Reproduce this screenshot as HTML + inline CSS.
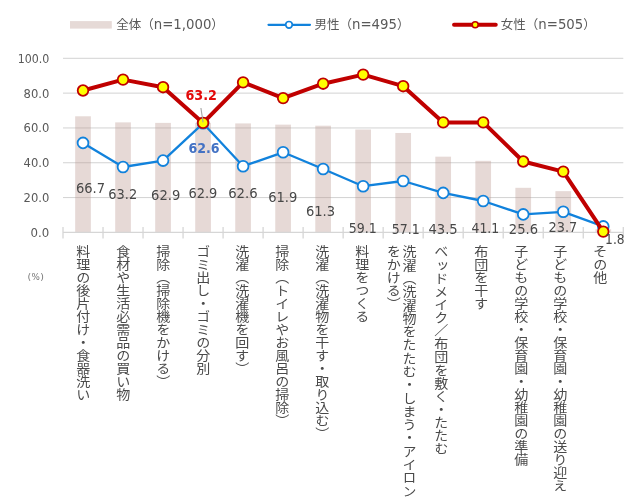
<!DOCTYPE html>
<html lang="ja"><head><meta charset="utf-8"><title>chart</title>
<style>
html,body{margin:0;padding:0;background:#fff;}
body{width:632px;height:500px;position:relative;overflow:hidden;}
svg{position:absolute;left:0;top:0;}
.num{font-family:'DejaVu Sans','Liberation Sans',sans-serif;fill:#595959;}
.ax{font-size:12px;}
.dl{font-size:13.33px;fill:#484848;}
.lg{font-size:12.5px;fill:#595959;}
.lgn{font-size:13.3px;fill:#595959;}
.jp{font-family:'Liberation Sans','Noto Sans CJK JP',sans-serif;}
.xl{position:absolute;top:245px;writing-mode:vertical-rl;font-family:'Liberation Sans','Noto Sans CJK JP',sans-serif;font-size:13px;line-height:15.7px;color:#4a4a4a;white-space:nowrap;letter-spacing:0;transform:scaleX(1.08);transform-origin:50% 0;}
.pct{position:absolute;left:24px;top:270px;font-family:'Liberation Sans','Noto Sans CJK JP',sans-serif;font-size:8px;color:#7f7f7f;line-height:12px;white-space:nowrap;}
</style></head><body>
<svg width="632" height="500" viewBox="0 0 632 500">
<line x1="63.0" x2="623.3" y1="197.58" y2="197.58" stroke="#d2d2d2" stroke-width="1"/>
<line x1="63.0" x2="623.3" y1="162.76" y2="162.76" stroke="#d2d2d2" stroke-width="1"/>
<line x1="63.0" x2="623.3" y1="127.94" y2="127.94" stroke="#d2d2d2" stroke-width="1"/>
<line x1="63.0" x2="623.3" y1="93.12" y2="93.12" stroke="#d2d2d2" stroke-width="1"/>
<line x1="63.0" x2="623.3" y1="58.30" y2="58.30" stroke="#d2d2d2" stroke-width="1"/>
<rect x="75.16" y="116.28" width="15.7" height="116.12" fill="#b9968e" fill-opacity="0.36"/>
<rect x="115.18" y="122.37" width="15.7" height="110.03" fill="#b9968e" fill-opacity="0.36"/>
<rect x="155.20" y="122.89" width="15.7" height="109.51" fill="#b9968e" fill-opacity="0.36"/>
<rect x="195.22" y="122.89" width="15.7" height="109.51" fill="#b9968e" fill-opacity="0.36"/>
<rect x="235.24" y="123.41" width="15.7" height="108.99" fill="#b9968e" fill-opacity="0.36"/>
<rect x="275.26" y="124.63" width="15.7" height="107.77" fill="#b9968e" fill-opacity="0.36"/>
<rect x="315.28" y="125.68" width="15.7" height="106.72" fill="#b9968e" fill-opacity="0.36"/>
<rect x="355.30" y="129.51" width="15.7" height="102.89" fill="#b9968e" fill-opacity="0.36"/>
<rect x="395.32" y="132.99" width="15.7" height="99.41" fill="#b9968e" fill-opacity="0.36"/>
<rect x="435.34" y="156.67" width="15.7" height="75.73" fill="#b9968e" fill-opacity="0.36"/>
<rect x="475.36" y="160.84" width="15.7" height="71.56" fill="#b9968e" fill-opacity="0.36"/>
<rect x="515.38" y="187.83" width="15.7" height="44.57" fill="#b9968e" fill-opacity="0.36"/>
<rect x="555.40" y="191.14" width="15.7" height="41.26" fill="#b9968e" fill-opacity="0.36"/>
<rect x="595.42" y="229.27" width="15.7" height="3.13" fill="#b9968e" fill-opacity="0.36"/>
<line x1="63.0" x2="623.3" y1="232.4" y2="232.4" stroke="#d6d6d6" stroke-width="1.3"/>
<line x1="63.00" x2="63.00" y1="226.9" y2="238.5" stroke="#d6d6d6" stroke-width="1.3"/>
<line x1="103.02" x2="103.02" y1="226.9" y2="238.5" stroke="#d6d6d6" stroke-width="1.3"/>
<line x1="143.04" x2="143.04" y1="226.9" y2="238.5" stroke="#d6d6d6" stroke-width="1.3"/>
<line x1="183.06" x2="183.06" y1="226.9" y2="238.5" stroke="#d6d6d6" stroke-width="1.3"/>
<line x1="223.08" x2="223.08" y1="226.9" y2="238.5" stroke="#d6d6d6" stroke-width="1.3"/>
<line x1="263.10" x2="263.10" y1="226.9" y2="238.5" stroke="#d6d6d6" stroke-width="1.3"/>
<line x1="303.12" x2="303.12" y1="226.9" y2="238.5" stroke="#d6d6d6" stroke-width="1.3"/>
<line x1="343.14" x2="343.14" y1="226.9" y2="238.5" stroke="#d6d6d6" stroke-width="1.3"/>
<line x1="383.16" x2="383.16" y1="226.9" y2="238.5" stroke="#d6d6d6" stroke-width="1.3"/>
<line x1="423.18" x2="423.18" y1="226.9" y2="238.5" stroke="#d6d6d6" stroke-width="1.3"/>
<line x1="463.20" x2="463.20" y1="226.9" y2="238.5" stroke="#d6d6d6" stroke-width="1.3"/>
<line x1="503.22" x2="503.22" y1="226.9" y2="238.5" stroke="#d6d6d6" stroke-width="1.3"/>
<line x1="543.24" x2="543.24" y1="226.9" y2="238.5" stroke="#d6d6d6" stroke-width="1.3"/>
<line x1="583.26" x2="583.26" y1="226.9" y2="238.5" stroke="#d6d6d6" stroke-width="1.3"/>
<line x1="623.28" x2="623.28" y1="226.9" y2="238.5" stroke="#d6d6d6" stroke-width="1.3"/>
<text class="num ax" x="30.6" y="236.8" textLength="18.7" lengthAdjust="spacingAndGlyphs">0.0</text>
<text class="num ax" x="23.6" y="202.0" textLength="25.7" lengthAdjust="spacingAndGlyphs">20.0</text>
<text class="num ax" x="23.6" y="167.2" textLength="25.7" lengthAdjust="spacingAndGlyphs">40.0</text>
<text class="num ax" x="23.6" y="132.3" textLength="25.7" lengthAdjust="spacingAndGlyphs">60.0</text>
<text class="num ax" x="23.6" y="97.5" textLength="25.7" lengthAdjust="spacingAndGlyphs">80.0</text>
<text class="num ax" x="17.7" y="62.7" textLength="31.6" lengthAdjust="spacingAndGlyphs">100.0</text>
<polyline points="83.01,142.90 123.03,167.00 163.05,160.60 203.07,123.30 243.09,166.20 283.11,152.30 323.13,169.00 363.15,186.20 403.17,181.00 443.19,192.90 483.21,201.00 523.23,214.40 563.25,211.80 603.27,226.40" fill="none" stroke="#1182dc" stroke-width="2.3" stroke-linejoin="round" stroke-linecap="round"/>
<circle cx="83.01" cy="142.90" r="5.4" fill="#fff" stroke="#1182dc" stroke-width="1.8"/>
<circle cx="123.03" cy="167.00" r="5.4" fill="#fff" stroke="#1182dc" stroke-width="1.8"/>
<circle cx="163.05" cy="160.60" r="5.4" fill="#fff" stroke="#1182dc" stroke-width="1.8"/>
<circle cx="203.07" cy="123.30" r="5.4" fill="#fff" stroke="#1182dc" stroke-width="1.8"/>
<circle cx="243.09" cy="166.20" r="5.4" fill="#fff" stroke="#1182dc" stroke-width="1.8"/>
<circle cx="283.11" cy="152.30" r="5.4" fill="#fff" stroke="#1182dc" stroke-width="1.8"/>
<circle cx="323.13" cy="169.00" r="5.4" fill="#fff" stroke="#1182dc" stroke-width="1.8"/>
<circle cx="363.15" cy="186.20" r="5.4" fill="#fff" stroke="#1182dc" stroke-width="1.8"/>
<circle cx="403.17" cy="181.00" r="5.4" fill="#fff" stroke="#1182dc" stroke-width="1.8"/>
<circle cx="443.19" cy="192.90" r="5.4" fill="#fff" stroke="#1182dc" stroke-width="1.8"/>
<circle cx="483.21" cy="201.00" r="5.4" fill="#fff" stroke="#1182dc" stroke-width="1.8"/>
<circle cx="523.23" cy="214.40" r="5.4" fill="#fff" stroke="#1182dc" stroke-width="1.8"/>
<circle cx="563.25" cy="211.80" r="5.4" fill="#fff" stroke="#1182dc" stroke-width="1.8"/>
<circle cx="603.27" cy="226.40" r="5.4" fill="#fff" stroke="#1182dc" stroke-width="1.8"/>
<polyline points="83.01,90.50 123.03,79.60 163.05,87.20 203.07,122.90 243.09,82.40 283.11,98.10 323.13,83.70 363.15,74.60 403.17,86.20 443.19,122.40 483.21,122.40 523.23,161.50 563.25,171.60 603.27,231.60" fill="none" stroke="#c00000" stroke-width="4" stroke-linejoin="round" stroke-linecap="round"/>
<circle cx="83.01" cy="90.50" r="5.3" fill="#ffff00" stroke="#c00000" stroke-width="1.8"/>
<circle cx="123.03" cy="79.60" r="5.3" fill="#ffff00" stroke="#c00000" stroke-width="1.8"/>
<circle cx="163.05" cy="87.20" r="5.3" fill="#ffff00" stroke="#c00000" stroke-width="1.8"/>
<circle cx="203.07" cy="122.90" r="5.3" fill="#ffff00" stroke="#c00000" stroke-width="1.8"/>
<circle cx="243.09" cy="82.40" r="5.3" fill="#ffff00" stroke="#c00000" stroke-width="1.8"/>
<circle cx="283.11" cy="98.10" r="5.3" fill="#ffff00" stroke="#c00000" stroke-width="1.8"/>
<circle cx="323.13" cy="83.70" r="5.3" fill="#ffff00" stroke="#c00000" stroke-width="1.8"/>
<circle cx="363.15" cy="74.60" r="5.3" fill="#ffff00" stroke="#c00000" stroke-width="1.8"/>
<circle cx="403.17" cy="86.20" r="5.3" fill="#ffff00" stroke="#c00000" stroke-width="1.8"/>
<circle cx="443.19" cy="122.40" r="5.3" fill="#ffff00" stroke="#c00000" stroke-width="1.8"/>
<circle cx="483.21" cy="122.40" r="5.3" fill="#ffff00" stroke="#c00000" stroke-width="1.8"/>
<circle cx="523.23" cy="161.50" r="5.3" fill="#ffff00" stroke="#c00000" stroke-width="1.8"/>
<circle cx="563.25" cy="171.60" r="5.3" fill="#ffff00" stroke="#c00000" stroke-width="1.8"/>
<circle cx="603.27" cy="231.60" r="5.3" fill="#ffff00" stroke="#c00000" stroke-width="1.8"/>
<line x1="200.9" y1="108" x2="203.1" y2="122.4" stroke="#a3a3a3" stroke-width="1.1"/>
<text class="num dl" x="75.9" y="193.0" textLength="29.2" lengthAdjust="spacingAndGlyphs">66.7</text>
<text class="num dl" x="108.3" y="199.3" textLength="28.9" lengthAdjust="spacingAndGlyphs">63.2</text>
<text class="num dl" x="151.1" y="200.0" textLength="29.2" lengthAdjust="spacingAndGlyphs">62.9</text>
<text class="num dl" x="188.4" y="197.8" textLength="28.9" lengthAdjust="spacingAndGlyphs">62.9</text>
<text class="num dl" x="228.2" y="197.8" textLength="29.5" lengthAdjust="spacingAndGlyphs">62.6</text>
<text class="num dl" x="268.2" y="201.6" textLength="29.2" lengthAdjust="spacingAndGlyphs">61.9</text>
<text class="num dl" x="305.9" y="216.3" textLength="29.2" lengthAdjust="spacingAndGlyphs">61.3</text>
<text class="num dl" x="348.7" y="233.0" textLength="28.0" lengthAdjust="spacingAndGlyphs">59.1</text>
<text class="num dl" x="391.7" y="234.2" textLength="28.0" lengthAdjust="spacingAndGlyphs">57.1</text>
<text class="num dl" x="428.4" y="234.2" textLength="29.3" lengthAdjust="spacingAndGlyphs">43.5</text>
<text class="num dl" x="471.5" y="232.7" textLength="27.6" lengthAdjust="spacingAndGlyphs">41.1</text>
<text class="num dl" x="508.8" y="233.9" textLength="29.2" lengthAdjust="spacingAndGlyphs">25.6</text>
<text class="num dl" x="548.5" y="232.2" textLength="28.8" lengthAdjust="spacingAndGlyphs">23.7</text>
<text class="num dl" x="605.1" y="244.0" textLength="19.5" lengthAdjust="spacingAndGlyphs">1.8</text>
<text class="num" x="185.4" y="99.9" textLength="31.6" lengthAdjust="spacingAndGlyphs" style="font-size:13.33px;font-weight:bold;fill:#e30a0a">63.2</text>
<text class="num" x="188.4" y="153" textLength="31.2" lengthAdjust="spacingAndGlyphs" style="font-size:13.33px;font-weight:bold;fill:#4472c4">62.6</text>
<rect x="70" y="21.1" width="41.8" height="7.5" fill="#e6dad7"/>
<text class="lg jp" x="116.2" y="29.4"><tspan>全体（</tspan><tspan class="num lgn">n=1,000</tspan><tspan>）</tspan></text>
<line x1="268.5" x2="310" y1="24.8" y2="24.8" stroke="#1182dc" stroke-width="2.2" stroke-linecap="round"/>
<circle cx="289" cy="24.8" r="3.3" fill="#fff" stroke="#1182dc" stroke-width="1.7"/>
<text class="lg jp" x="314.5" y="29.4"><tspan>男性（</tspan><tspan class="num lgn">n=495</tspan><tspan>）</tspan></text>
<line x1="454" x2="495.8" y1="24.8" y2="24.8" stroke="#c00000" stroke-width="3.9" stroke-linecap="round"/>
<circle cx="475.2" cy="24.8" r="3" fill="#ffff00" stroke="#c00000" stroke-width="1.6"/>
<text class="lg jp" x="500.8" y="29.4"><tspan>女性（</tspan><tspan class="num lgn">n=505</tspan><tspan>）</tspan></text>
<text class="num" y="279.6" style="fill:#787878"><tspan x="27.6" style="font-size:9.4px">(</tspan><tspan x="31.5" style="font-size:8.8px">%</tspan><tspan x="40.3" style="font-size:9.4px">)</tspan></text>
</svg>
<div class="xl" style="left:74.3px;width:15.7px;">料理の後片付け・食器洗い</div>
<div class="xl" style="left:114.1px;width:15.7px;">食材や生活必需品の買い物</div>
<div class="xl" style="left:153.9px;width:15.7px;">掃除（掃除機をかける）</div>
<div class="xl" style="left:193.6px;width:15.7px;">ゴミ出し・ゴミの分別</div>
<div class="xl" style="left:233.4px;width:15.7px;">洗濯（洗濯機を回す）</div>
<div class="xl" style="left:273.1px;width:15.7px;">掃除（トイレやお風呂の掃除）</div>
<div class="xl" style="left:312.9px;width:15.7px;">洗濯（洗濯物を干す・取り込む）</div>
<div class="xl" style="left:352.6px;width:15.7px;">料理をつくる</div>
<div class="xl" style="left:384.9px;width:29.2px;line-height:14.6px;"><span style="letter-spacing:0.29px">洗濯（洗濯物をたたむ・しまう・アイロン</span><br>をかける）</div>
<div class="xl" style="left:432.1px;width:15.7px;letter-spacing:0.13px;">ベッドメイク／布団を敷く・たたむ</div>
<div class="xl" style="left:471.9px;width:15.7px;">布団を干す</div>
<div class="xl" style="left:511.6px;width:15.7px;">子どもの学校・保育園・幼稚園の準備</div>
<div class="xl" style="left:551.3px;width:15.7px;">子どもの学校・保育園・幼稚園の送り迎え</div>
<div class="xl" style="left:591.1px;width:15.7px;">その他</div>
</body></html>
